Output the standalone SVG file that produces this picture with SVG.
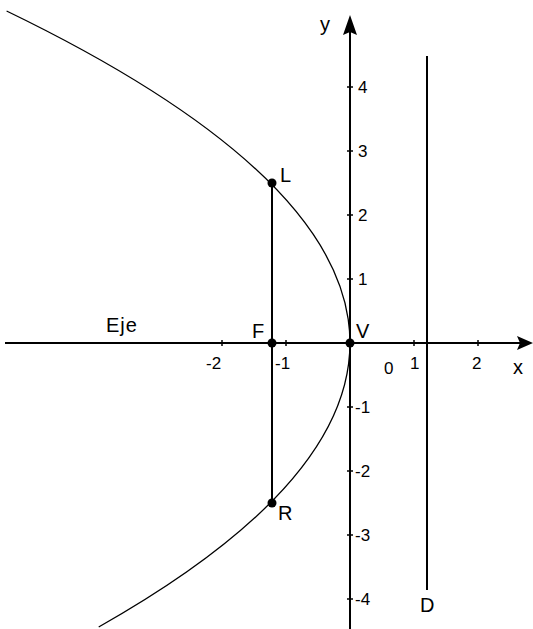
<svg xmlns="http://www.w3.org/2000/svg" width="533" height="629" viewBox="0 0 533 629">
<style>
.ax{stroke:#000;stroke-width:2;fill:none}
.ln{stroke:#000;stroke-width:2;fill:none}
.cv{stroke:#000;stroke-width:1.3;fill:none}
.tk{stroke:#000;stroke-width:1.5}
text{font-family:"Liberation Sans",Arial,sans-serif;fill:#000}
.n{font-size:17px}
.lb{font-size:20px}
</style>
<rect width="533" height="629" fill="#fff"/>
<g id="connectors">
<path id="parabola" class="cv" d="M6.6,11 Q643.7,319 98.7,627"/>
<line id="x-axis" class="ax" x1="5" y1="343" x2="520" y2="343"/>
<polygon points="533,343 517,336 520,343 517,350" fill="#000"/>
<line id="y-axis" class="ax" x1="350" y1="629" x2="350" y2="30"/>
<polygon points="350,15 343,35 350,32 357,35" fill="#000"/>
<line id="latus" class="ln" x1="272" y1="183" x2="272" y2="503"/>
<line id="directrix" class="ln" x1="427" y1="56" x2="427" y2="590"/>
<g class="tk">
<line x1="347" y1="87" x2="353" y2="87"/>
<line x1="347" y1="151" x2="353" y2="151"/>
<line x1="347" y1="215" x2="353" y2="215"/>
<line x1="347" y1="279" x2="353" y2="279"/>
<line x1="347" y1="407" x2="353" y2="407"/>
<line x1="347" y1="471" x2="353" y2="471"/>
<line x1="347" y1="535" x2="353" y2="535"/>
<line x1="347" y1="599" x2="353" y2="599"/>
<line x1="222" y1="340" x2="222" y2="346"/>
<line x1="286" y1="340" x2="286" y2="346"/>
<line x1="414" y1="340" x2="414" y2="346"/>
<line x1="478" y1="340" x2="478" y2="346"/>
</g>
</g>
<g id="node-L"><circle cx="272" cy="183" r="4.5"/><text class="lb" x="280" y="182">L</text></g>
<g id="node-F"><circle cx="272" cy="343" r="4.5"/><text class="lb" x="252" y="338">F</text></g>
<g id="node-V"><circle cx="350" cy="343" r="4.5"/><text class="lb" x="356" y="338">V</text></g>
<g id="node-R"><circle cx="272" cy="503" r="4.5"/><text class="lb" x="278" y="520">R</text></g>
<g id="node-D"><text class="lb" x="420" y="612">D</text></g>
<g id="labels">
<text class="lb" x="106" y="332" letter-spacing="1">Eje</text>
<text class="lb" x="320" y="31">y</text>
<text class="lb" x="513" y="374">x</text>
<text class="n" x="358" y="93">4</text>
<text class="n" x="358" y="157">3</text>
<text class="n" x="358" y="221">2</text>
<text class="n" x="358" y="285">1</text>
<text class="n" x="355" y="413">-1</text>
<text class="n" x="355" y="477">-2</text>
<text class="n" x="355" y="541">-3</text>
<text class="n" x="355" y="605">-4</text>
<text class="n" x="206" y="369">-2</text>
<text class="n" x="275" y="369">-1</text>
<text class="n" x="384" y="374">0</text>
<text class="n" x="410" y="369">1</text>
<text class="n" x="472" y="369">2</text>
</g>
</svg>
